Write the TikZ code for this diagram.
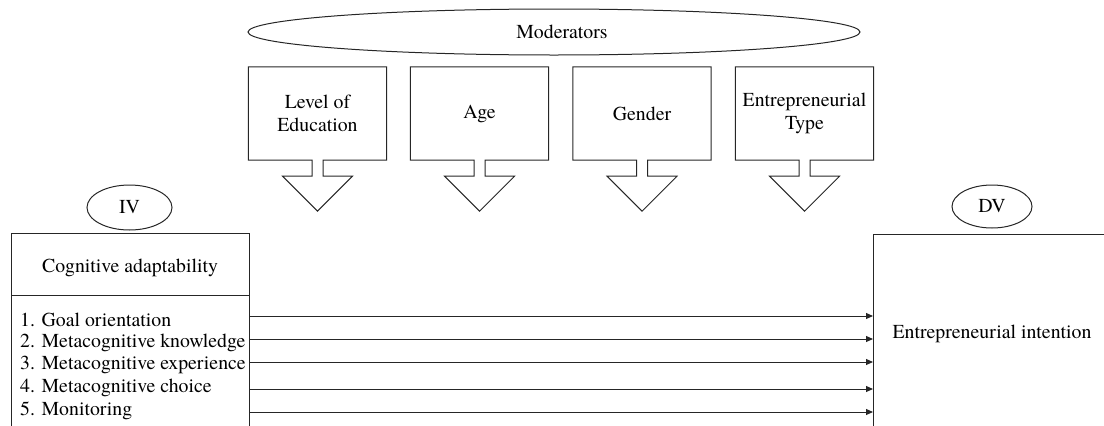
\documentclass[tikz,border=0pt]{standalone}
\usepackage{fontspec}
\IfFontExistsTF{texgyretermes-regular.otf}
  {\setmainfont{texgyretermes-regular.otf}\def\fsz{19.8}}
  {\def\fsz{18}}
\usetikzlibrary{shapes.geometric,arrows.meta,calc}
\begin{document}
\begin{tikzpicture}[x=1pt,y=-1pt,
  every node/.style={font=\rmfamily\fontsize{\fsz}{22.7}\selectfont},
  line/.style={line width=1pt,draw=black!85},
  oval/.style={ellipse,line,inner sep=0pt},
  modbox/.style={minimum width=138pt,minimum height=93pt,inner sep=0pt,align=center},
  conn/.style={line,-{Triangle[length=7pt,width=6pt]}}]
\useasboundingbox (0,0) rectangle (1104,426);
% moderators
\node[oval,minimum width=612pt,minimum height=46pt] (mod) at (554,32) {\hspace*{16pt}Moderators};
\node[modbox] (m1) at (317.5,113.5) {Level of\\Education};
\node[modbox] (m2) at (479.5,113.5) {Age};
\node[modbox] (m3) at (642,113.5) {Gender};
\node[modbox] (m4) at (804.5,113.5) {Entrepreneurial\\Type};
\foreach \n in {m1,m2,m3,m4}{
  \draw[line,line join=miter] ([xshift=-5.5pt]\n.south) -- (\n.south west) -- (\n.north west)
    -- (\n.north east) -- (\n.south east) -- ([xshift=5.5pt]\n.south)
    -- ([xshift=5.5pt,yshift=-16pt]\n.south) -- ([xshift=35pt,yshift=-16pt]\n.south)
    -- ([yshift=-51pt]\n.south) -- ([xshift=-35pt,yshift=-16pt]\n.south)
    -- ([xshift=-5.5pt,yshift=-16pt]\n.south) -- cycle;
}
% IV
\node[oval,minimum width=85pt,minimum height=45pt] (iv) at (129.5,207.5) {IV};
\coordinate (cvtl) at (11,233.5);
\coordinate (cvtr) at (249,233.5);
\coordinate (cvbl) at (11,430);
\coordinate (cvbr) at (249,430);
\draw[line] (cvbl) -- (cvtl) -- (cvtr) -- (cvbr);
\coordinate (divl) at (11,295);
\coordinate (divr) at (249,295);
\draw[line] (divl) -- (divr);
\node (cog) at (130,268) {Cognitive adaptability};
\node[anchor=west,inner sep=0pt] (i1) at (20,320) {1. Goal orientation};
\node[anchor=west,inner sep=0pt] (i2) at (20,342.7) {2. Metacognitive knowledge};
\node[anchor=west,inner sep=0pt] (i3) at (20,365.4) {3. Metacognitive experience};
\node[anchor=west,inner sep=0pt] (i4) at (20,388.1) {4. Metacognitive choice};
\node[anchor=west,inner sep=0pt] (i5) at (20,410.8) {5. Monitoring};
% DV
\node[oval,minimum width=80pt,minimum height=43pt] (dv) at (992,206.5) {DV};
\coordinate (dvbl) at (873,430);
\coordinate (dvtl) at (873,234);
\coordinate (dvtr) at (1110,234);
\draw[line] (dvbl) -- (dvtl) -- (dvtr);
\node (ei) at (992,334) {Entrepreneurial intention};
% connectors
\foreach \y [count=\k] in {316,339,362,389,412}{
  \coordinate (s\k) at (249,\y);
  \coordinate (e\k) at (873,\y);
  \draw[conn] (s\k) -- (e\k);
}
\end{tikzpicture}
\end{document}
